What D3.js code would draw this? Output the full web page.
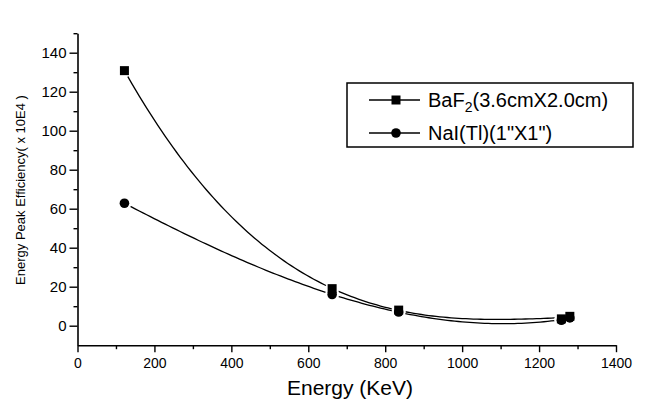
<!DOCTYPE html>
<html>
<head>
<meta charset="utf-8">
<script src="https://cdn.jsdelivr.net/npm/d3@7"></script>
<style>
  body { margin: 0; background: #fff; }
  svg text { font-family: "Liberation Sans", Arial, sans-serif; fill: #000; }
</style>
</head>
<body>
<svg id="chart" width="646" height="408"></svg>
<script>
"use strict";

// data
const energies   = [122, 662, 835, 1258, 1280];
const baf2Eff    = [130.8, 19, 8, 3.5, 4.8];
const naiEff     = [62.8, 16, 7, 2.8, 4.0];
const xMajorTicks = [0, 200, 400, 600, 800, 1000, 1200, 1400];
const xMinorTicks = [100, 300, 500, 700, 900, 1100, 1300];
const yMajorTicks = [0, 20, 40, 60, 80, 100, 120, 140];
const yMinorTicks = [10, 30, 50, 70, 90, 110, 130, 150];

const svg = d3.select("#chart");

const x = d3.scaleLinear().domain([0, 1400]).range([77.5, 616]);
const y = d3.scaleLinear().domain([-10, 150]).range([345.2, 33.2]);

/* Axes: major + minor ticks, left and bottom only */
function draw_axes() {
  const bottom = svg.append("g").attr("transform", `translate(0,${y(-10)})`);
  bottom.call(d3.axisBottom(x).tickValues(xMajorTicks).tickFormat(d3.format("d"))
    .tickSize(7).tickSizeOuter(0).tickPadding(6));
  bottom.append("g").call(d3.axisBottom(x).tickValues(xMinorTicks).tickSize(4).tickFormat(""))
    .select(".domain").remove();

  const left = svg.append("g").attr("transform", `translate(${x(0)},0)`);
  left.call(d3.axisLeft(y).tickValues(yMajorTicks).tickSize(8).tickSizeOuter(0).tickPadding(3));
  left.append("g").call(d3.axisLeft(y).tickValues(yMinorTicks).tickSize(4).tickFormat(""))
    .select(".domain").remove();

  svg.selectAll(".domain").attr("stroke", "#000").attr("stroke-width", 1.6);
  svg.selectAll(".tick line").attr("stroke", "#000").attr("stroke-width", 1.4);
  bottom.selectAll(".tick text").style("font-size", "14px");
  left.selectAll(".tick text").style("font-size", "15px");

  svg.append("text")
    .attr("x", 350).attr("y", 395)
    .attr("text-anchor", "middle")
    .style("font-size", "21px")
    .text("Energy (KeV)");

  svg.append("text")
    .attr("transform", "translate(25,190) rotate(-90)")
    .attr("text-anchor", "middle")
    .style("font-size", "13px")
    .text("Energy Peak Efficiency( x 10E4 )");
}

function marker(sel, shape) {
  if (shape === "square") {
    sel.append("rect").attr("x", -4.5).attr("y", -4.5).attr("width", 9).attr("height", 9).attr("fill", "#000");
  } else {
    sel.append("circle").attr("r", 4.8).attr("fill", "#000");
  }
}

/* least squares cubic through the points (keV scaled to MeV) */
function cubic_fit(xs, ys) {
  const n = 4, A = [], b = [];
  for (let r = 0; r < n; r++) {
    A.push(new Array(n).fill(0)); b.push(0);
  }
  xs.forEach((xv, i) => {
    const t = xv / 1000;
    for (let r = 0; r < n; r++) {
      for (let c = 0; c < n; c++) A[r][c] += Math.pow(t, r + c);
      b[r] += ys[i] * Math.pow(t, r);
    }
  });
  // gaussian elimination
  for (let k = 0; k < n; k++) {
    let p = k;
    for (let r = k + 1; r < n; r++) if (Math.abs(A[r][k]) > Math.abs(A[p][k])) p = r;
    [A[k], A[p]] = [A[p], A[k]]; [b[k], b[p]] = [b[p], b[k]];
    for (let r = k + 1; r < n; r++) {
      const f = A[r][k] / A[k][k];
      for (let c = k; c < n; c++) A[r][c] -= f * A[k][c];
      b[r] -= f * b[k];
    }
  }
  const coef = new Array(n).fill(0);
  for (let k = n - 1; k >= 0; k--) {
    let s = b[k];
    for (let c = k + 1; c < n; c++) s -= A[k][c] * coef[c];
    coef[k] = s / A[k][k];
  }
  return xv => coef.reduce((acc, cf, i) => acc + cf * Math.pow(xv / 1000, i), 0);
}

const series = [
  {values: baf2Eff, shape: "square"},
  {values: naiEff,  shape: "circle"}
];

/* smooth fitted curve for one series */
function draw_curve(values) {
  const f = cubic_fit(energies, values);
  const lo = d3.min(energies), hi = d3.max(energies);
  const curvePts = d3.range(0, 121).map(i => { const e = lo + (hi - lo) * i / 120; return [e, f(e)]; });
  const line = d3.line().x(d => x(d[0])).y(d => y(d[1]));

  svg.append("path")
    .attr("d", line(curvePts))
    .attr("fill", "none")
    .attr("stroke", "#000")
    .attr("stroke-width", 1.3);
}

/* white gap round each point, then the symbols on top */
function draw_points() {
  series.forEach(s => {
    svg.append("g").selectAll("circle")
      .data(energies).enter().append("circle")
      .attr("cx", e => x(e)).attr("cy", (e, i) => y(s.values[i]))
      .attr("r", 7).attr("fill", "#fff");
  });
  series.forEach(s => {
    svg.append("g").selectAll("g")
      .data(energies).enter().append("g")
      .attr("transform", (e, i) => `translate(${x(e)},${y(s.values[i])})`)
      .each(function() { marker(d3.select(this), s.shape); });
  });
}

function draw_legend() {
  svg.append("rect")
    .attr("x", 347).attr("y", 83).attr("width", 286).attr("height", 64)
    .attr("fill", "#fff").attr("stroke", "#000").attr("stroke-width", 1.5);

  const rows = [{shape: "square", yy: 100}, {shape: "circle", yy: 133}];
  rows.forEach(r => {
    svg.append("line").attr("x1", 369).attr("x2", 420).attr("y1", r.yy).attr("y2", r.yy)
      .attr("stroke", "#000").attr("stroke-width", 1.3);
    marker(svg.append("g").attr("transform", `translate(396,${r.yy})`), r.shape);
  });

  const t1 = svg.append("text").attr("x", 428).attr("y", 107).style("font-size", "20px");
  t1.append("tspan").text("BaF");
  t1.append("tspan").attr("dy", 5).style("font-size", "14px").text("2");
  t1.append("tspan").attr("dy", -5).text("(3.6cmX2.0cm)");

  svg.append("text").attr("x", 428).attr("y", 140).style("font-size", "20px")
    .text("NaI(Tl)(1\"X1\")");
}

draw_axes();
series.forEach(s => draw_curve(s.values));
draw_points();
draw_legend();
</script>
</body>
</html>
